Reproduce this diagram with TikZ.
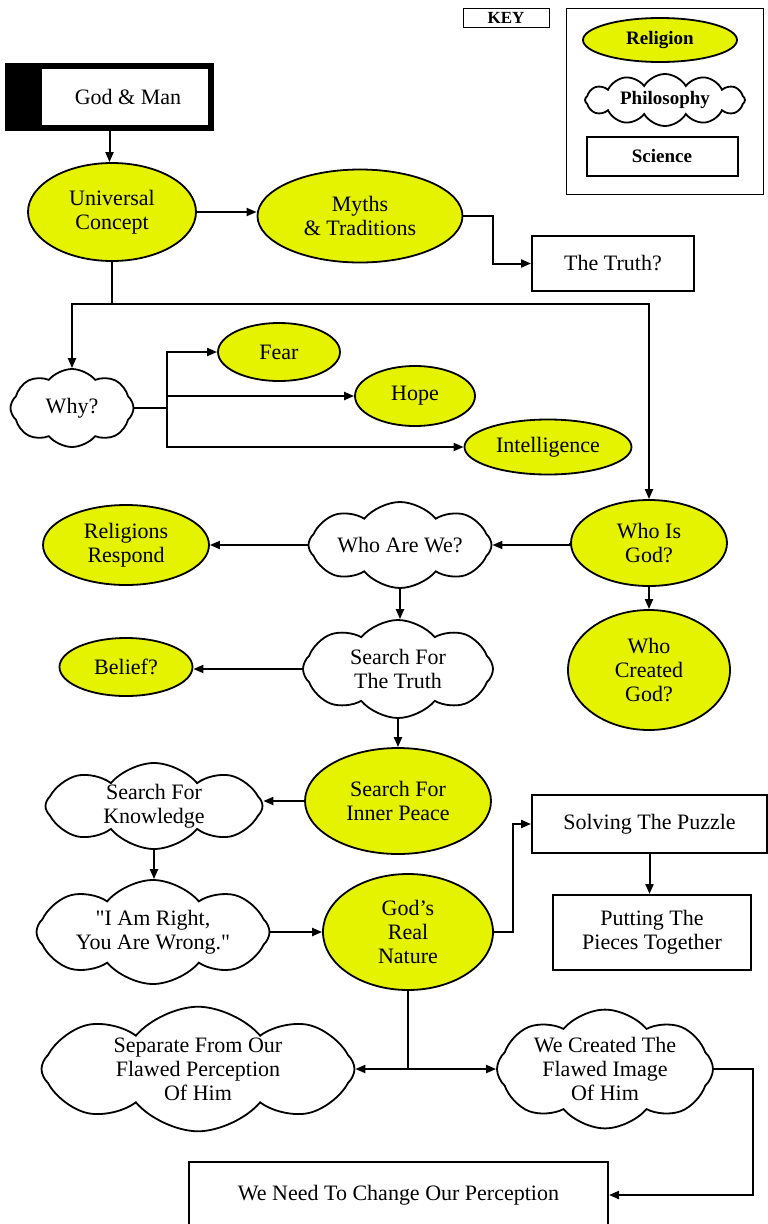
\documentclass[tikz,border=0pt]{standalone}
\usepackage{fontspec}
\setmainfont{Liberation Serif}
\usetikzlibrary{arrows.meta,calc,shapes.geometric,shapes.symbols}
\definecolor{relyellow}{RGB}{229,242,0}
\def\bodyfont{\fontsize{22}{24}\selectfont}
\tikzset{
	religion/.style={ellipse, draw, line width=1.8pt, fill=relyellow, inner sep=0pt, align=center, font=\bodyfont},
	philosophy/.style={cloud, cloud puffs=8, cloud puff arc=100, cloud ignores aspect, draw, line width=1.8pt, fill=white, inner sep=0pt, align=center, font=\bodyfont},
	science/.style={rectangle, draw, line width=2pt, fill=white, inner sep=0pt, align=center, font=\bodyfont},
	keyfont/.style={font=\fontsize{19}{21}\selectfont\bfseries},
	link/.style={line width=2pt},
	arr/.style={line width=2pt, -{Triangle[length=10pt,width=8pt]}}
}

\begin{document}
\begin{tikzpicture}[x=1pt, y=-1pt]
			%%%%% START %%%%%
			\useasboundingbox (0, 0) rectangle (768, 1224);

			% key
			\node[science, line width=1pt, minimum width=86, minimum height=19, font=\fontsize{17}{19}\selectfont\bfseries] (keytitle) at (506, 17.5) {KEY};
			\draw[line width=1pt] (566, 8) rectangle (763, 194);
			\node[religion, keyfont, minimum width=154, minimum height=44] (keyrel) at (660, 40) {Religion};
			\node[philosophy, keyfont, cloud puffs=12, cloud puff arc=120, minimum width=160, minimum height=52] (keyphil) at (665, 100) {Philosophy};
			\node[science, keyfont, minimum width=151, minimum height=39] (keysci) at (662, 156) {Science};

			% top
			\node[science, line width=6pt, minimum width=203, minimum height=62,
				path picture={\fill[black] (path picture bounding box.south west) rectangle ([xshift=34pt]path picture bounding box.north west);}]
				(godman) at (109.5, 97) {\hspace*{37pt}God \& Man};
			\node[religion, minimum width=168, minimum height=98] (univ) at (112, 212) {Universal\\Concept};
			\node[religion, minimum width=205, minimum height=93] (myths) at (360, 216) {Myths\\\& Traditions};
			\node[science, minimum width=162, minimum height=55] (truth) at (613, 263.5) {The Truth?};

			\draw[arr] (godman.south) -- (godman.south |- univ.north);
			\draw[arr] (univ.east) -- (univ.east -| myths.west);
			\draw[arr] (myths.east) -- ++(30, 0) |- (truth.west);

			% why
			\node[philosophy, minimum width=123, minimum height=78] (why) at (72, 408) {Why?};
			\node[religion, minimum width=122, minimum height=58] (fear) at (279, 352) {Fear};
			\node[religion, minimum width=120, minimum height=60] (hope) at (415, 396) {Hope};
			\node[religion, minimum width=167, minimum height=55] (intel) at (548, 447) {Intelligence};

			\coordinate (uj) at ($(univ.south)+(0, 42)$);
			\draw[link] (univ.south) -- (uj);
			\draw[arr] (uj) -| (why.north);
			\coordinate (wj) at ($(why.east)+(33, 0)$);
			\draw[link] (why.east) -- (wj);
			\draw[arr] (wj) |- (fear.west);
			\draw[arr] (wj) |- (hope.west);
			\draw[arr] (wj) |- (intel.west);

			% who
			\node[religion, minimum width=156, minimum height=86] (whoisgod) at (649, 543) {Who Is\\God?};
			\node[philosophy, minimum width=183, minimum height=86] (whoarewe) at (400, 545) {Who Are We?};
			\node[religion, minimum width=166, minimum height=80] (respond) at (126, 545) {Religions\\Respond};
			\node[religion, minimum width=162, minimum height=120] (created) at (649, 670) {Who\\Created\\God?};

			\draw[arr] (uj) -| (whoisgod.north);
			\draw[arr] (whoisgod.west) -- (whoisgod.west |- whoarewe.east) -- (whoarewe.east);
			\draw[arr] (whoarewe.west) -- (respond.east);
			\draw[arr] (whoisgod.south) -- (created.north);

			% search
			\node[philosophy, minimum width=190, minimum height=98] (searchtruth) at (398, 669) {Search For\\The Truth};
			\node[religion, minimum width=133, minimum height=58] (belief) at (126, 667) {Belief?};
			\node[religion, minimum width=186, minimum height=106] (peace) at (398, 801) {Search For\\Inner Peace};
			\node[philosophy, minimum width=217, minimum height=86] (knowledge) at (154, 806) {Search For\\Knowledge};

			\draw[arr] (whoarewe.south) -- (whoarewe.south |- searchtruth.north);
			\draw[arr] (searchtruth.west) -- (searchtruth.west -| belief.east);
			\draw[arr] (searchtruth.south) -- (peace.north);
			\draw[arr] (peace.west) -- (peace.west -| knowledge.east);

			% nature
			\node[philosophy, minimum width=233, minimum height=104] (right) at (153, 932) {\textquotedbl I Am Right,\\You Are Wrong.\textquotedbl};
			\node[religion, minimum width=170, minimum height=116] (nature) at (408, 932) {God's\\Real\\Nature};
			\node[science, minimum width=235, minimum height=58] (puzzle) at (649.5, 824) {Solving The Puzzle};
			\node[science, minimum width=198, minimum height=75] (pieces) at (652, 932.5) {Putting The\\Pieces Together};

			\draw[arr] (knowledge.south) -- (knowledge.south |- right.north);
			\draw[arr] (right.east) -- (nature.west);
			\draw[arr] (nature.east) -- ++(19, 0) |- (puzzle.west);
			\draw[arr] (puzzle.south) -- (puzzle.south |- pieces.north);

			% bottom
			\node[philosophy, minimum width=313, minimum height=110] (separate) at (198, 1069) {Separate From Our\\Flawed Perception\\Of Him};
			\node[philosophy, minimum width=216, minimum height=118] (image) at (605, 1069) {We Created The\\Flawed Image\\Of Him};
			\node[science, minimum width=419, minimum height=66] (change) at (398.5, 1195) {We Need To Change Our Perception};

			\coordinate (nj) at (nature.south |- separate.east);
			\draw[link] (nature.south) -- (nj);
			\draw[arr] (nj) -- (separate.east);
			\draw[arr] (nj) -- (nj -| image.west);
			\draw[arr] (image.east) -- ++(39, 0) |- (change.east);

			%%%%% END %%%%%
\end{tikzpicture}
\end{document}
